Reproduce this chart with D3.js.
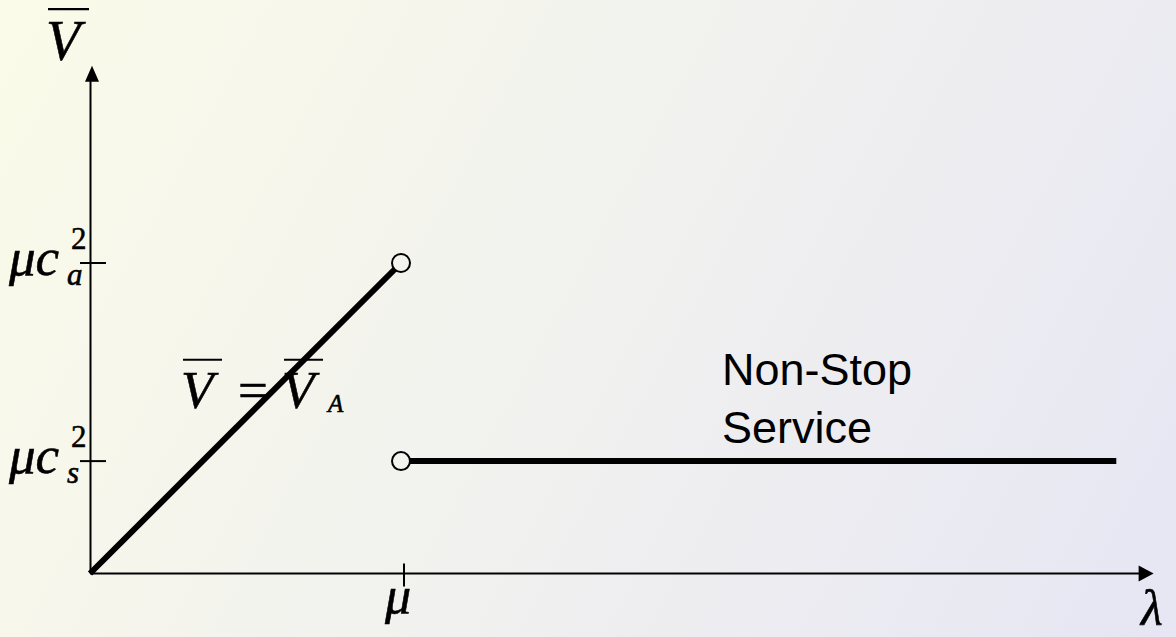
<!DOCTYPE html>
<html>
<head>
<meta charset="utf-8">
<script src="https://cdn.jsdelivr.net/npm/d3@7"></script>
<style>
  html, body { margin: 0; padding: 0; }
  svg { display: block; }
  .math { font-family: "Liberation Serif", "Times New Roman", serif; font-style: italic; fill: #000; stroke: #000; stroke-width: 0.6px; }
  .plain { font-family: "Liberation Serif", "Times New Roman", serif; fill: #000; stroke: #000; stroke-width: 0.5px; }
  .note { font-family: "Liberation Sans", Arial, sans-serif; fill: #000; }
</style>
</head>
<body>
<svg id="chart" width="1176" height="637"></svg>
<script>
// Arrival rate λ in units of μ; value V̄ in units of μc_a²
const mu = 1;
const ca2 = 1.0;        // level reached by V̄ = V̄_A at λ = μ
const cs2 = 0.362;      // non-stop service level μc_s²
const lambdaEnd = 3.30; // extent of the non-stop segment
const axisMax = { x: 3.42, y: 1.635 };

// segments
const rampLambda = [0, mu];
const rampValue = [0, ca2];
const flatLambda = [mu, lambdaEnd];
const flatValue = [cs2, cs2];

// tick labels
const yTickValues = [ca2, cs2];
const yTickSubs = ["a", "s"];
const xTickLabel = "\u03BC";

const W = 1176, H = 637;
const svg = d3.select("#chart");

// background wash
const defs = svg.append("defs");
const grad = defs.append("linearGradient")
  .attr("id", "bg").attr("gradientUnits", "userSpaceOnUse")
  .attr("x1", 0).attr("y1", 0).attr("x2", W).attr("y2", H);
grad.append("stop").attr("offset", "0%").attr("stop-color", "#fbfbe9");
grad.append("stop").attr("offset", "50%").attr("stop-color", "#f1f1ef");
grad.append("stop").attr("offset", "100%").attr("stop-color", "#e6e6f4");
svg.append("rect").attr("width", W).attr("height", H).attr("fill", "url(#bg)");

const x = d3.scaleLinear().domain([0, mu]).range([90, 401]);
const y = d3.scaleLinear().domain([0, ca2]).range([573.5, 263]);

// axes with arrowheads
const axisG = svg.append("g");
axisG.append("line")
  .attr("x1", x(0)).attr("y1", y(0)).attr("x2", x(axisMax.x) - 12).attr("y2", y(0))
  .attr("stroke", "#000").attr("stroke-width", 2);
axisG.append("line")
  .attr("x1", x(0) + 0.5).attr("y1", y(0)).attr("x2", x(0) + 0.5).attr("y2", y(axisMax.y) + 12)
  .attr("stroke", "#000").attr("stroke-width", 2);
const xt = x(axisMax.x), yt = y(0);
axisG.append("path")
  .attr("d", `M${xt},${yt} L${xt - 15},${yt - 8} L${xt - 15},${yt + 8} Z`).attr("fill", "#000");
const ax = x(0) + 2, ay = y(axisMax.y);
axisG.append("path")
  .attr("d", `M${ax},${ay} L${ax - 7},${ay + 16} L${ax + 7},${ay + 16} Z`).attr("fill", "#000");

// ticks
svg.append("g").selectAll("line").data(yTickValues).join("line")
  .attr("x1", x(0) - 10).attr("x2", x(0) + 16)
  .attr("y1", d => y(d)).attr("y2", d => y(d))
  .attr("stroke", "#000").attr("stroke-width", 2);
svg.append("line")
  .attr("x1", x(mu) + 3).attr("x2", x(mu) + 3)
  .attr("y1", y(0) - 10).attr("y2", y(0) + 13)
  .attr("stroke", "#000").attr("stroke-width", 2);

// y tick labels μc²_a, μc²_s
yTickValues.forEach((v, i) => {
  const base = y(v) + 12;
  svg.append("text").attr("class", "math").attr("x", 9).attr("y", base)
    .style("font-size", "53px").text("\u03BCc");
  svg.append("text").attr("class", "plain").attr("x", 71).attr("y", base - 26)
    .style("font-size", "31px").text("2");
  svg.append("text").attr("class", "math").attr("x", 67).attr("y", base + 10)
    .style("font-size", "31px").text(yTickSubs[i]);
});

// x tick label μ and axis label λ
svg.append("text").attr("class", "math").attr("text-anchor", "middle")
  .attr("x", x(mu) - 3).attr("y", y(0) + 39).style("font-size", "52px").text(xTickLabel);
svg.append("text").attr("class", "math")
  .attr("x", 1141).attr("y", 625).style("font-size", "50px").text("\u03BB");

// V with an overbar
function barredV(px, base, size) {
  const t = svg.append("text").attr("class", "math").attr("x", px).attr("y", base)
    .style("font-size", size + "px").text("V");
  const b = t.node().getBBox();
  svg.append("line")
    .attr("x1", b.x + 2).attr("x2", b.x + b.width + 3)
    .attr("y1", base - size * 0.91).attr("y2", base - size * 0.91)
    .attr("stroke", "#000").attr("stroke-width", 2.2);
}
barredV(46, 60, 56);

// V̄ = V̄_A annotation
barredV(181, 408, 53);
svg.append("text").attr("class", "plain").attr("x", 238).attr("y", 408)
  .style("font-size", "53px").text("=");
barredV(282, 408, 53);
svg.append("text").attr("class", "math").attr("x", 328).attr("y", 412)
  .style("font-size", "25px").text("A");

// the two branches
const line = d3.line().x(d => x(d[0])).y(d => y(d[1]));
svg.append("path")
  .datum(d3.zip(rampLambda, rampValue))
  .attr("d", line).attr("fill", "none").attr("stroke", "#000").attr("stroke-width", 6);
svg.append("path")
  .datum(d3.zip(flatLambda, flatValue))
  .attr("d", line).attr("fill", "none").attr("stroke", "#000").attr("stroke-width", 6);

// open endpoints at λ = μ
svg.append("g").selectAll("circle").data([ca2, cs2]).join("circle")
  .attr("cx", x(mu)).attr("cy", d => y(d)).attr("r", 9)
  .attr("fill", "url(#bg)").attr("stroke", "#000").attr("stroke-width", 2);

// segment note
svg.append("text").attr("class", "note").attr("x", 722).attr("y", 385)
  .style("font-size", "45px").text("Non-Stop");
svg.append("text").attr("class", "note").attr("x", 722).attr("y", 443)
  .style("font-size", "45px").text("Service");
</script>
</body>
</html>
